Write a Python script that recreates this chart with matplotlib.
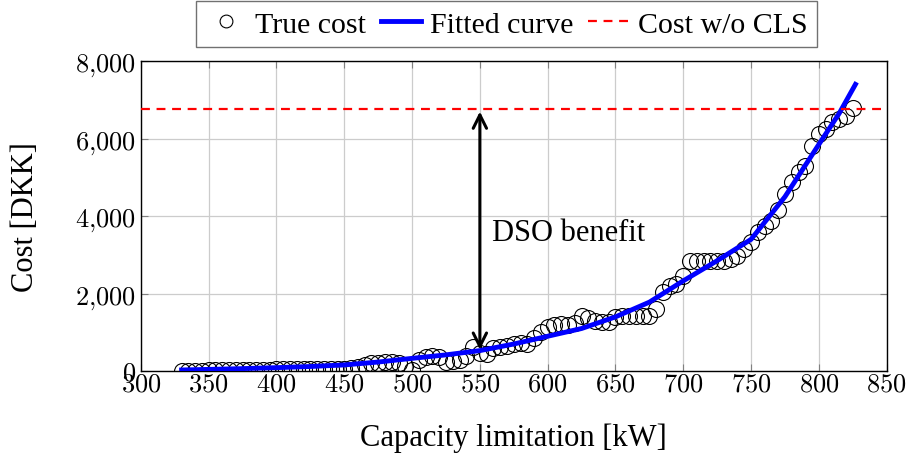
import matplotlib
matplotlib.use("Agg")
import matplotlib.pyplot as plt
import numpy as np
from matplotlib.ticker import FuncFormatter

plt.rcParams['font.family'] = ['Liberation Serif', 'DejaVu Serif']
plt.rcParams['mathtext.fontset'] = 'cm'

# true cost samples
capacity = list(range(330, 830, 5))
true_cost = [10, 10, 15, 15, 20, 20, 25, 25, 30, 30,
             35, 35, 40, 40, 45, 45, 50, 50, 55, 55,
             60, 60, 65, 60, 60, 70, 100, 150, 200, 220,
             230, 230, 200, 120, 30, 300, 370, 380, 360, 230,
             250, 280, 400, 620, 470, 450, 600, 620, 650, 700,
             720, 690, 850, 1000, 1150, 1200, 1210, 1200, 1250, 1430,
             1380, 1290, 1260, 1280, 1390, 1420, 1430, 1420, 1430, 1420,
             1600, 2030, 2200, 2250, 2460, 2850, 2850, 2850, 2850, 2850,
             2850, 2890, 2980, 3150, 3330, 3600, 3750, 3880, 4150, 4570,
             4870, 5130, 5300, 5810, 6110, 6250, 6420, 6500, 6580, 6800]

# fitted curve
fit_x = [330, 350, 375, 400, 425, 450, 475, 500, 525, 550, 575,
         600, 625, 650, 675, 700, 725, 750, 775, 800, 815, 827]
fit_y = [30, 45, 65, 90, 120, 160, 235, 330, 420, 530, 700,
         900, 1100, 1400, 1780, 2330, 2850, 3400, 4500, 5850, 6650, 7400]

no_cls_cost = 6770
arrow_x = 550
arrow_low = 480

fig = plt.figure(figsize=(9.15, 4.6), dpi=100)
ax = fig.add_axes([0.154, 0.191, 0.815, 0.674])

ax.plot(capacity, true_cost, 'o', mfc='none', mec='black', ms=11.5, mew=0.8,
        label='True cost', zorder=3)
ax.plot(fit_x, fit_y, color='#0000ff', lw=3.5, label='Fitted curve', zorder=4)
ax.axhline(no_cls_cost, color='#ff0000', lw=1.6, ls=(0, (4, 3)),
           label='Cost w/o CLS', zorder=4)

ax.annotate('', xy=(arrow_x, no_cls_cost), xytext=(arrow_x, arrow_low),
            arrowprops=dict(arrowstyle='<->', lw=2.2, color='black',
                            mutation_scale=24), zorder=5)
ax.text(559, 3590, 'DSO benefit', fontsize=22, va='center', ha='left')

ax.set_xlim(300, 850)
ax.set_ylim(0, 8000)
ax.set_xticks(np.arange(300, 851, 50))
ax.set_yticks(np.arange(0, 8001, 2000))
ax.xaxis.set_major_formatter(FuncFormatter(lambda v, p: '$%d$' % v))
ax.yaxis.set_major_formatter(
    FuncFormatter(lambda v, p: ('$' + format(int(v), ',').replace(',', '{,}') + '$')))
ax.tick_params(direction='in', top=True, right=True, labelsize=19, length=5,
               color='0.5')
ax.tick_params(axis='x', pad=2)
ax.grid(True, color='0.8', lw=0.9)
ax.set_axisbelow(True)
for s in ax.spines.values():
    s.set_linewidth(1.0)

ax.set_xlabel('Capacity limitation [kW]', fontsize=22)
ax.set_ylabel('Cost [DKK]', fontsize=22)
ax.xaxis.set_label_coords(0.5, -0.165)
ax.yaxis.set_label_coords(-0.135, 0.5)

leg = ax.legend(loc='lower center', bbox_to_anchor=(0.49, 1.045), ncol=3,
                fontsize=21.5, frameon=True, fancybox=False, edgecolor='0.3',
                handlelength=1.35, handletextpad=0.3, columnspacing=0.5,
                borderpad=0.32, borderaxespad=0, markerscale=0.8)
leg.get_frame().set_linewidth(1.0)

fig.savefig('out.png', dpi=100)
